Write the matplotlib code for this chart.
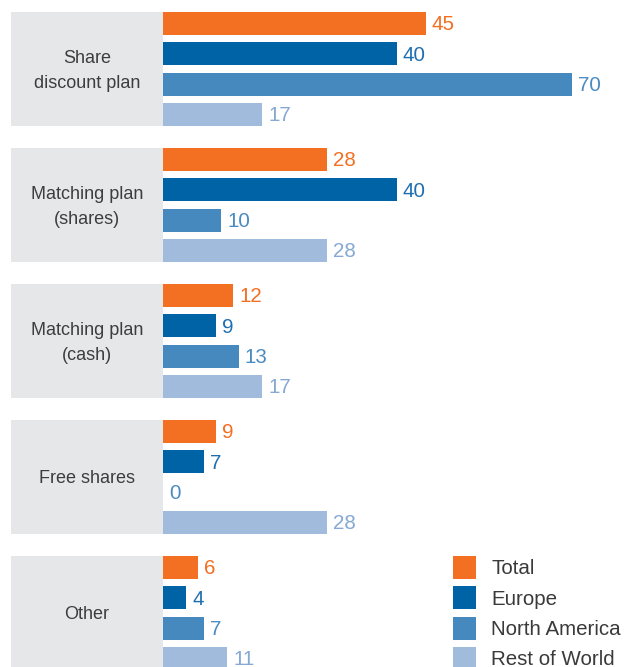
import matplotlib.pyplot as plt
from matplotlib.patches import Rectangle

plt.rcParams['font.family'] = ['Liberation Sans', 'DejaVu Sans']

categories = ['Share\ndiscount plan', 'Matching plan\n(shares)', 'Matching plan\n(cash)',
              'Free shares', 'Other']
series = ['Total', 'Europe', 'North America', 'Rest of World']
total = [45, 28, 12, 9, 6]
europe = [40, 40, 9, 7, 4]
north_america = [70, 10, 13, 0, 7]
rest_of_world = [17, 28, 17, 28, 11]

bar_colors = ['#f36f21', '#0063a6', '#4689bf', '#a0bbdb']
label_colors = ['#f36f21', '#1f6fb0', '#4a8cc2', '#86a9d3']

W, H = 626, 667
px_per_unit = 5.84          # horizontal pixels per percentage point
x0 = 163                    # pixel where bars start
group_pitch = 136
slot = 30.3
bar_h = 23

fig = plt.figure(figsize=(W / 100, H / 100), dpi=100)
ax = fig.add_axes([0, 0, 1, 1])
ax.set_xlim(-x0 / px_per_unit, (W - x0) / px_per_unit)
ax.set_ylim(H, 0)
ax.axis('off')

values = [total, europe, north_america, rest_of_world]

for g, cat in enumerate(categories):
    top = 12 + group_pitch * g
    box_h = slot * 3 + bar_h
    ax.add_patch(Rectangle((-152 / px_per_unit, top), 152 / px_per_unit, box_h,
                           facecolor='#e6e7e8', edgecolor='none'))
    ax.text(-76 / px_per_unit, top + box_h / 2 + 2, cat, ha='center', va='center',
            fontsize=13, color='#3d3d3d', linespacing=1.6)
    for j in range(4):
        yc = top + bar_h / 2 + slot * j
        v = values[j][g]
        ax.barh(yc, v, height=bar_h, color=bar_colors[j], linewidth=0)
        ax.text(v + 6 / px_per_unit, yc + 1.5, str(v), ha='left', va='center',
                fontsize=14.8, color=label_colors[j])

# legend beside the last group
top = 12 + group_pitch * 4
for j, name in enumerate(series):
    yc = top + bar_h / 2 + slot * j
    ax.add_patch(Rectangle(((453 - x0) / px_per_unit, yc - 11.5), 23 / px_per_unit, 23,
                           facecolor=bar_colors[j], edgecolor='none'))
    ax.text((491 - x0) / px_per_unit, yc + 1.5, name, ha='left', va='center',
            fontsize=14.8, color='#3a3a3a')

fig.savefig('out.png', dpi=100)
